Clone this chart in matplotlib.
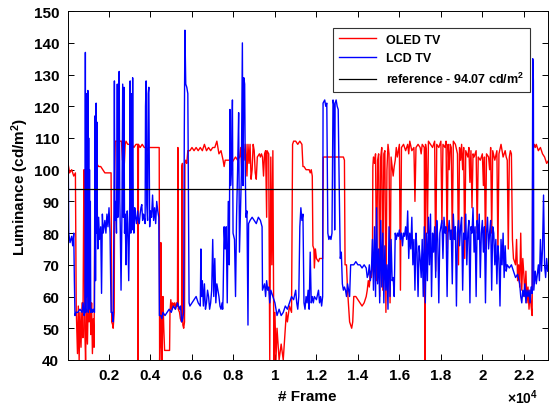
"""Luminance per frame for an OLED TV and an LCD TV against a reference level."""
import matplotlib
matplotlib.use("Agg")
import matplotlib.pyplot as plt

plt.rcParams["font.family"] = ["Liberation Sans", "DejaVu Sans"]
plt.rcParams["font.weight"] = "bold"
plt.rcParams["mathtext.default"] = "regular"

REFERENCE = 94.07

OLED_FRAME = [
    0, 100, 200, 300, 380, 400, 420, 480, 520, 560, 600, 650, 700, 740, 790,
    810, 830, 870, 910, 960, 1000, 1040, 1080, 1120, 1160, 1200, 1240, 1280,
    1320, 1370, 1400, 1500, 1600, 1700, 1800, 2100, 2130, 2180, 2200, 2250,
    2270, 2300, 2400, 2420, 2440, 2600, 2650, 2700, 2740, 2780, 2820, 2900,
    3000, 3100, 3200, 3300, 3380, 3400, 3420, 3500, 3600, 3700, 3800, 3850,
    3900, 4000, 4100, 4200, 4300, 4420, 4440, 4470, 4500, 4530, 4560, 4600,
    4640, 4680, 4720, 4800, 4920, 4940, 4980, 5020, 5060, 5100, 5150, 5200,
    5240, 5300, 5320, 5340, 5400, 5440, 5500, 5510, 5540, 5560, 5600, 5640,
    5660, 5700, 5750, 5800, 5900, 6000, 6100, 6200, 6300, 6400, 6500, 6600,
    6700, 6800, 6900, 7000, 7100, 7200, 7300, 7400, 7500, 7550, 7600, 7700,
    7800, 7900, 8000, 8100, 8200, 8300, 8350, 8400, 8450, 8500, 8550, 8600,
    8650, 8700, 8750, 8800, 8850, 8900, 8950, 9000, 9050, 9100, 9150, 9250,
    9300, 9350, 9400, 9450, 9500, 9550, 9600, 9620, 9700, 9750, 9800, 9850,
    9900, 9950, 10000, 10050, 10100, 10200, 10300, 10400, 10500, 10550,
    10600, 10700, 10800, 10850, 10900, 11000, 11100, 11200, 11300, 11350,
    11400, 11500, 11600, 11650, 11700, 11750, 11800, 11830, 11880, 11900,
    11950, 12000, 12100, 12150, 12200, 12300, 12330, 12400, 12600, 12800,
    13000, 13200, 13300, 13350, 13380, 13450, 13500, 13550, 13600, 13700,
    13750, 13800, 13900, 14000, 14100, 14200, 14300, 14400, 14450, 14500,
    14550, 14600, 14650, 14700, 14720, 14750, 14800, 14850, 14900, 14950,
    15000, 15050, 15100, 15150, 15200, 15250, 15300, 15350, 15400, 15450,
    15500, 15550, 15600, 15700, 15750, 15800, 15850, 15900, 16000, 16050,
    16100, 16200, 16300, 16400, 16450, 16500, 16600, 16700, 16750, 16800,
    16900, 17000, 17050, 17100, 17200, 17230, 17260, 17300, 17350, 17400,
    17500, 17600, 17700, 17750, 17800, 17900, 18000, 18050, 18100, 18200,
    18250, 18300, 18350, 18400, 18450, 18500, 18550, 18600, 18700, 18800,
    18850, 18900, 18950, 19000, 19050, 19100, 19150, 19200, 19300, 19350,
    19400, 19450, 19500, 19550, 19600, 19700, 19750, 19800, 19900, 20000,
    20050, 20100, 20150, 20200, 20300, 20350, 20400, 20450, 20500, 20600,
    20700, 20750, 20800, 20900, 21000, 21100, 21150, 21200, 21250, 21300,
    21350, 21400, 21450, 21500, 21600, 21650, 21700, 21750, 21800, 21850,
    21900, 21950, 22000, 22050, 22100, 22150, 22200, 22250, 22300, 22350,
    22400, 22430, 22500, 22550, 22600, 22700, 22800, 22900, 23000, 23100,
    23200,
]
OLED_LUM = [
    103, 99, 100, 98, 99, 80, 56, 42, 57, 40, 55, 44, 58, 47, 100,
    100, 50, 40, 56, 45, 60, 52, 65, 48, 58, 42, 53, 44,
    100, 101, 102, 101, 101, 100, 99, 99, 52, 51, 50, 55,
    98, 109, 109, 103, 109, 109, 103, 108, 102, 108, 109, 108,
    108, 108, 107, 108, 108, 40, 108, 107, 108, 107, 107, 106,
    107, 107, 107, 107, 107, 107, 40, 48, 77, 45, 40, 60,
    50, 43, 43, 43, 43, 55, 59, 56, 58, 57, 58, 56,
    58, 57, 107, 56, 55, 53, 52, 101, 102, 51, 50, 52,
    102, 103, 102, 106, 106, 107, 106, 107, 106, 107, 106, 108,
    106, 107, 106, 107, 107, 109, 105, 106, 103, 101, 103, 103,
    103, 102, 103, 104, 103, 104, 107, 100, 108, 108, 103, 108,
    98, 108, 102, 108, 97, 100, 108, 106, 99, 97, 104, 105,
    104, 105, 104, 98, 105, 106, 85, 106, 105, 40, 104, 70,
    106, 40, 55, 40, 50, 40, 45, 40, 50, 55,
    52, 57, 55, 108, 109, 109, 108, 109, 108, 101,
    101, 100, 100, 100, 99, 100, 98, 76, 75, 69,
    75, 72, 71, 72, 72, 72, 104, 104, 104, 104,
    104, 104, 104, 103, 70, 70, 62, 57, 52, 50,
    52, 60, 60, 59, 58, 57, 58, 60, 62, 65,
    63, 68, 66, 69, 101, 104, 102, 105, 65, 103,
    105, 60, 104, 107, 62, 105, 106, 55, 100, 108,
    105, 58, 104, 98, 101, 103, 107, 104, 108, 62,
    107, 108, 106, 108, 105, 109, 106, 107, 90, 107,
    108, 107, 105, 108, 107, 40, 108, 106, 80, 109,
    108, 107, 109, 68, 108, 107, 109, 83, 108, 107,
    109, 75, 108, 100, 108, 107, 78, 109, 108, 105,
    70, 107, 103, 108, 100, 107, 72, 106, 104, 107,
    96, 106, 88, 105, 104, 106, 80, 104, 103, 105,
    95, 104, 75, 105, 104, 100, 107, 80, 106, 103,
    106, 74, 105, 108, 104, 106, 104, 103, 75, 104,
    106, 105, 78, 72, 70, 78, 65, 70, 63, 80,
    62, 72, 67, 60, 68, 58, 63, 56, 62, 57,
    54, 106, 108, 107, 108, 106, 107, 105, 104, 102,
    103,
]

LCD_FRAME = [
    0, 30, 60, 120, 200, 250, 300, 330, 360, 400, 500, 600, 700, 750, 800,
    840, 860, 880, 900, 920, 940, 960, 980, 1000, 1020, 1040, 1060, 1080,
    1100, 1120, 1160, 1200, 1240, 1300, 1330, 1350, 1380, 1400, 1420, 1440,
    1460, 1500, 1540, 1600, 1640, 1680, 1720, 1760, 1800, 1850, 1900, 1950,
    2000, 2050, 2100, 2150, 2200, 2240, 2260, 2280, 2320, 2360, 2400, 2430,
    2460, 2490, 2520, 2540, 2580, 2620, 2660, 2690, 2720, 2750, 2780, 2820,
    2850, 2880, 2900, 2950, 3000, 3020, 3050, 3080, 3110, 3140, 3170, 3200,
    3240, 3280, 3320, 3380, 3420, 3460, 3500, 3540, 3580, 3620, 3660, 3700,
    3740, 3760, 3790, 3820, 3860, 3890, 3920, 3960, 4000, 4050, 4100, 4150,
    4200, 4250, 4300, 4350, 4400, 4430, 4500, 4550, 4600, 4700, 4800, 4900,
    5000, 5100, 5200, 5300, 5400, 5450, 5500, 5550, 5600, 5630, 5660, 5700,
    5750, 5800, 5820, 5860, 5900, 6000, 6100, 6200, 6300, 6400, 6430, 6460,
    6500, 6550, 6600, 6650, 6700, 6750, 6800, 6850, 6900, 6950, 7000, 7050,
    7100, 7150, 7200, 7300, 7350, 7400, 7450, 7480, 7500, 7550, 7600, 7650,
    7700, 7750, 7800, 7830, 7860, 7900, 7950, 7980, 8050, 8100, 8150, 8200,
    8250, 8290, 8330, 8380, 8430, 8460, 8500, 8540, 8570, 8600, 8650, 8700,
    8730, 8800, 8900, 9000, 9100, 9200, 9300, 9380, 9400, 9500, 9550, 9600,
    9650, 9700, 9750, 9800, 9900, 10000, 10100, 10200, 10300, 10400, 10500,
    10600, 10700, 10800, 10900, 11000, 11050, 11100, 11150, 11200, 11250,
    11300, 11350, 11400, 11450, 11500, 11550, 11600, 11650, 11700, 11750,
    11800, 11850, 11900, 12000, 12100, 12150, 12200, 12250, 12300, 12320,
    12400, 12450, 12500, 12550, 12600, 12650, 12700, 12750, 12800, 12850,
    12880, 12900, 12950, 13000, 13050, 13100, 13150, 13200, 13250, 13300,
    13350, 13400, 13450, 13500, 13550, 13600, 13650, 13700, 13800, 13900,
    14000, 14100, 14200, 14300, 14400, 14450, 14500, 14550, 14600, 14650,
    14700, 14750, 14800, 14850, 14900, 14950, 15000, 15050, 15100, 15150,
    15200, 15250, 15300, 15350, 15400, 15450, 15500, 15550, 15600, 15650,
    15700, 15750, 15800, 15850, 15900, 15950, 16000, 16050, 16100, 16150,
    16200, 16250, 16300, 16350, 16400, 16450, 16500, 16550, 16600, 16650,
    16700, 16750, 16800, 16850, 16900, 16950, 17000, 17050, 17100, 17150,
    17200, 17250, 17300, 17350, 17400, 17450, 17500, 17550, 17600, 17650,
    17700, 17750, 17800, 17850, 17900, 17950, 18000, 18050, 18100, 18150,
    18200, 18250, 18300, 18350, 18400, 18450, 18500, 18550, 18600, 18650,
    18700, 18750, 18800, 18850, 18900, 18950, 19000, 19050, 19100, 19150,
    19200, 19250, 19300, 19350, 19400, 19450, 19500, 19550, 19600, 19650,
    19700, 19750, 19800, 19850, 19900, 19950, 20000, 20050, 20100, 20150,
    20200, 20250, 20300, 20350, 20400, 20450, 20500, 20550, 20600, 20650,
    20700, 20750, 20800, 20850, 20900, 20950, 21000, 21050, 21100, 21150,
    21200, 21300, 21400, 21500, 21600, 21700, 21800, 21850, 21900, 21950,
    22000, 22050, 22100, 22150, 22200, 22250, 22300, 22350, 22400, 22430,
    22460, 22480, 22550, 22600, 22700, 22750, 22800, 22850, 22900, 22950,
    23000, 23050, 23100, 23150,
]
LCD_LUM = [
    111, 108, 80, 77, 79, 76, 80, 65, 54, 55, 55, 56, 55, 58, 54,
    55, 137, 55, 124, 60, 122, 80, 125, 55, 110, 56, 100, 60,
    90, 55, 56, 55, 56, 55, 117, 65, 121, 80, 115, 82,
    75, 85, 78, 82, 61, 86, 80, 82, 84, 80, 86, 82,
    88, 80, 55, 55, 52, 87, 128, 84, 90, 80, 127, 85,
    120, 131, 90, 83, 62, 84, 127, 85, 126, 80, 86, 70,
    82, 87, 83, 65, 90, 128, 80, 124, 81, 129, 85, 80,
    88, 85, 83, 87, 84, 83, 86, 88, 89, 84, 86, 85,
    83, 120, 128, 89, 84, 124, 126, 82, 87, 85, 92, 84,
    88, 83, 90, 87, 85, 54, 54, 53, 55, 54, 55, 56,
    55, 57, 56, 58, 56, 57, 52, 53, 55, 112, 144, 127,
    126, 124, 100, 58, 57, 58, 59, 60, 58, 57, 75, 60,
    65, 57, 64, 56, 58, 62, 60, 56, 58, 62, 78, 60,
    72, 58, 64, 60, 57, 56, 58, 56, 60, 82, 75, 82,
    58, 90, 70, 119, 95, 100, 122, 80, 78, 60, 85, 100,
    118, 74, 85, 98, 140, 95, 129, 127, 100, 85, 87, 51,
    83, 84, 85, 84, 83, 85, 84, 82, 62, 64, 60, 65,
    62, 63, 58, 62, 60, 58, 54, 56, 54, 55, 57,
    56, 58, 60, 59, 62, 58, 56, 60, 82, 88,
    84, 86, 58, 56, 60, 58, 62, 56, 74, 58,
    60, 58, 60, 59, 62, 58, 60, 57, 60, 121,
    122, 120, 121, 80, 78, 79, 78, 80, 122, 120,
    81, 121, 122, 120, 119, 94, 72, 74, 64, 62,
    63, 62, 60, 64, 62, 60, 70, 70, 70, 71,
    70, 70, 69, 70, 69, 66, 67, 70, 65, 68,
    78, 62, 82, 60, 88, 64, 75, 58, 84, 63,
    80, 58, 76, 62, 70, 56, 82, 60, 78, 65,
    66, 60, 80, 78, 80, 79, 81, 78, 80, 76,
    80, 79, 82, 78, 87, 72, 80, 75, 85, 70,
    78, 62, 80, 74, 60, 76, 72, 66, 78, 60,
    82, 58, 80, 65, 85, 70, 86, 60, 80, 74,
    82, 66, 84, 78, 58, 80, 82, 84, 72, 85,
    80, 82, 60, 80, 84, 78, 81, 64, 86, 78,
    82, 57, 80, 84, 76, 82, 85, 62, 80, 78,
    86, 70, 80, 84, 58, 82, 80, 88, 74, 82,
    60, 84, 78, 86, 66, 80, 84, 74, 82, 58,
    80, 85, 75, 80, 84, 62, 82, 80, 70, 78,
    64, 76, 72, 57, 78, 70, 80, 66, 76, 68,
    70, 69, 70, 68, 66, 67, 64, 60, 58, 62,
    60, 64, 58, 62, 60, 62, 58, 63, 61, 135,
    128, 62, 68, 64, 70, 65, 78, 68, 75, 92,
    70, 66, 72, 68,
]

X_TICKS = [2000, 4000, 6000, 8000, 10000, 12000, 14000, 16000, 18000,
           20000, 22000]
X_TICK_LABELS = ["0.2", "0.4", "0.6", "0.8", "1", "1.2", "1.4", "1.6", "1.8",
                 "2", "2.2"]
Y_TICKS = [40, 50, 60, 70, 80, 90, 100, 110, 120, 130, 140, 150]


def main():
    fig = plt.figure(figsize=(5.49, 4.06), dpi=100)
    ax = fig.add_axes([0.123, 0.111, 0.875, 0.859])

    ax.plot(OLED_FRAME, OLED_LUM, color="#ff0000", lw=1.0, label="OLED TV")
    ax.plot(LCD_FRAME, LCD_LUM, color="#0000ff", lw=1.0, label="LCD TV")
    ax.axhline(REFERENCE, color="black", lw=0.9,
               label="reference - %.2f cd/m$^2$" % REFERENCE)

    ax.set_xlim(0, 23160)
    ax.set_ylim(40, 150)
    ax.set_xticks(X_TICKS)
    ax.set_xticklabels(X_TICK_LABELS)
    ax.set_yticks(Y_TICKS)
    ax.tick_params(direction="in", length=4, width=0.7, top=True, right=True,
                   labelsize=11, pad=6)
    for spine in ax.spines.values():
        spine.set_linewidth(0.7)

    ax.set_xlabel("# Frame", fontsize=11, fontweight="bold", labelpad=5)
    ax.set_ylabel("Luminance (cd/m$^2$)", fontsize=11, fontweight="bold",
                  labelpad=2)
    ax.text(0.98, -0.08, "\u00d710$^4$", transform=ax.transAxes, ha="right",
            va="top", fontsize=10, fontweight="bold")

    leg = ax.legend(loc="upper right", bbox_to_anchor=(0.975, 0.97),
                    fontsize=9, frameon=True, fancybox=False,
                    handlelength=3.0, borderpad=0.45, labelspacing=0.55)
    leg.get_frame().set_edgecolor("#333333")
    leg.get_frame().set_linewidth(0.8)
    leg.get_frame().set_alpha(1.0)

    fig.savefig("out.png", dpi=100)
    plt.close(fig)


if __name__ == "__main__":
    main()
